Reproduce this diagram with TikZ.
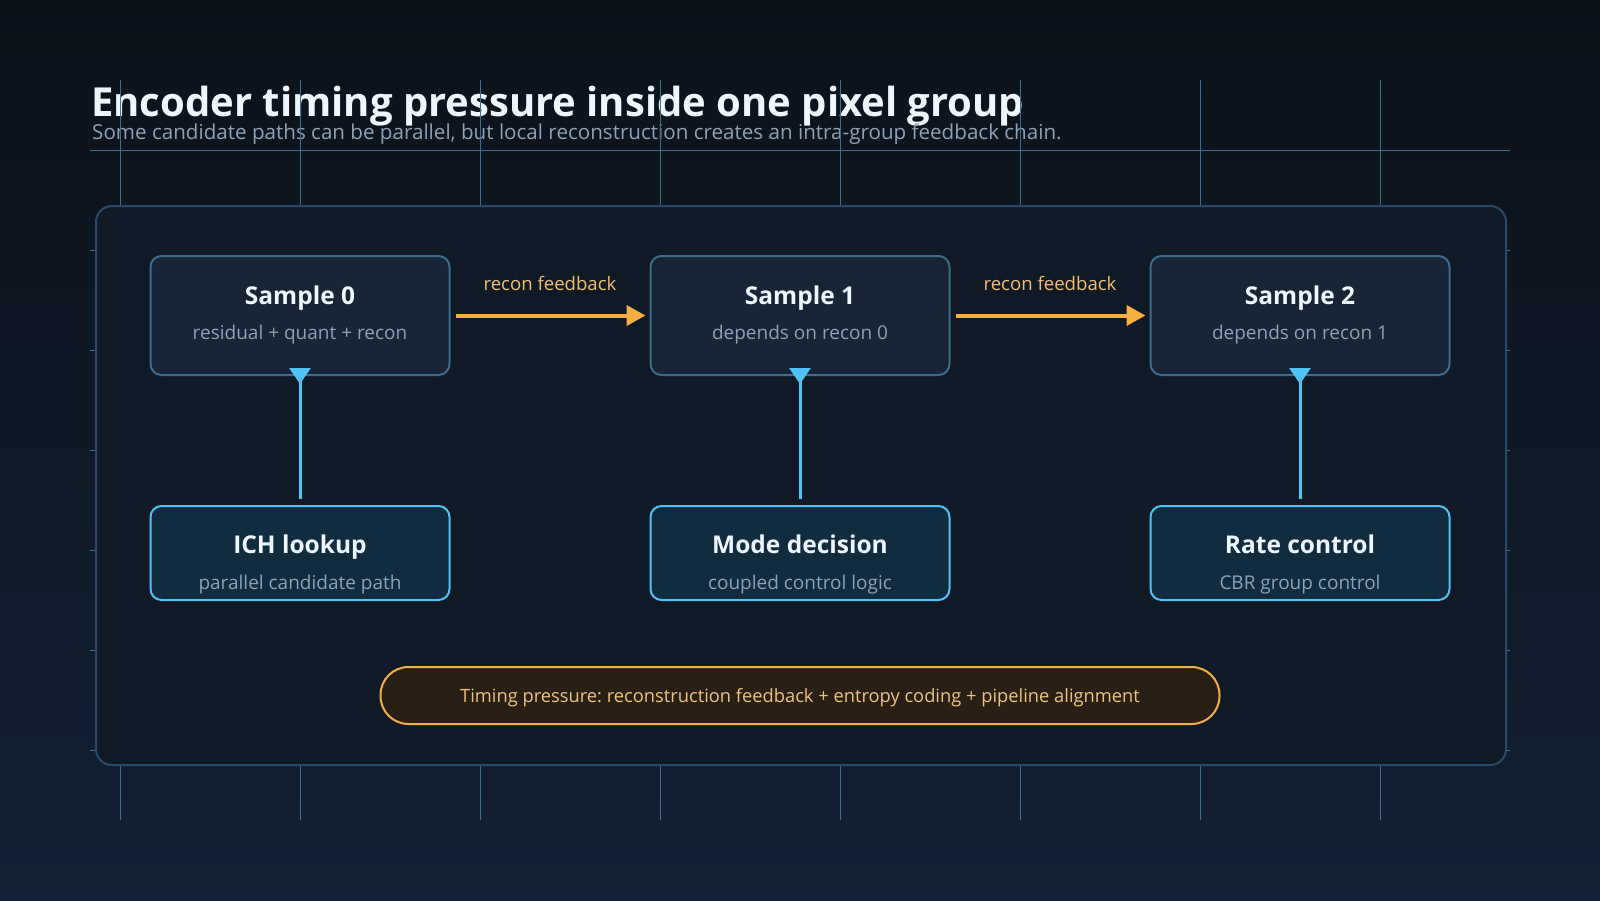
\documentclass[tikz,border=0pt]{standalone}
\usepackage{fontspec}
\setmainfont{Open Sans}
\usetikzlibrary{arrows.meta}
\frenchspacing
\definecolor{bgtop}{HTML}{0C121A}
\definecolor{bgbot}{HTML}{122033}
\definecolor{gridc}{HTML}{3A6E92}
\definecolor{titlec}{HTML}{EEF6FF}
\definecolor{subc}{HTML}{8DA2B6}
\definecolor{panelfill}{HTML}{101A27}
\definecolor{panelline}{HTML}{28496A}
\definecolor{topfill}{HTML}{172536}
\definecolor{topline}{HTML}{3B6B8F}
\definecolor{botfill}{HTML}{112B3F}
\definecolor{botline}{HTML}{4FC3F7}
\definecolor{orangec}{HTML}{F5AE42}
\definecolor{orangetxt}{HTML}{F3BD6E}
\definecolor{pillfill}{HTML}{291F15}
\definecolor{pilltxt}{HTML}{EFC27D}
\tikzset{
  gridline/.style={draw=gridc, line width=1pt},
  panelbox/.style={draw=panelline, fill=panelfill, line width=2pt, rounded corners=16pt},
  topbox/.style={draw=topline, fill=topfill, line width=2pt, rounded corners=11pt, minimum width=299pt, minimum height=119pt, inner sep=0pt},
  botbox/.style={draw=botline, fill=botfill, line width=2pt, rounded corners=11pt, minimum width=299pt, minimum height=94pt, inner sep=0pt},
  boxtitle/.style={anchor=base, text=titlec, font=\fontsize{24.5}{28}\selectfont\bfseries, inner sep=0pt},
  boxsub/.style={anchor=base, text=subc, font=\fontsize{19}{22}\selectfont, inner sep=0pt},
  feedback/.style={draw=orangec, line width=4pt, -{Triangle[length=19pt,width=20pt]}, shorten <=5pt, shorten >=4pt},
  fblabel/.style={anchor=base, text=orangetxt, font=\fontsize{18.6}{22}\selectfont, inner sep=0pt, yshift=25pt},
  uplink/.style={draw=botline, fill=botline, line width=3pt, {Triangle[reversed,length=16pt,width=21pt]}-, shorten >=6pt},
  pill/.style={draw=orangec, fill=pillfill, line width=2pt, rounded corners=28pt, minimum width=839pt, minimum height=57pt, inner sep=0pt},
}
\begin{document}
\begin{tikzpicture}[x=1pt,y=-1pt]
\fill[top color=bgtop, bottom color=bgbot] (0,0) rectangle (1600,900);
\useasboundingbox (0,0) rectangle (1600,900);

% title
\node[anchor=base west, inner sep=0pt, text=titlec, font=\fontsize{40}{44}\selectfont\bfseries] (title) at (91,116) {Encoder timing pressure inside one pixel group};
\node[anchor=base west, inner sep=0pt, text=subc, font=\fontsize{20.6}{24}\selectfont] (subtitle) at (92,139) {Some candidate paths can be parallel, but local reconstruction creates an intra-group feedback chain.};

% grid
\foreach \x in {120,300,...,1380} \draw[gridline] (\x,80) -- (\x,820);
\foreach \y in {250,350,...,750} \draw[gridline] (90,\y) -- (1510,\y);
\draw[gridline] (90,150) -- (1510,150);

% panel
\draw[panelbox] (96,206) rectangle (1506,765);

% top row
\node[topbox] (s0) at (300,315.5) {};
\node[topbox] (s1) at (800,315.5) {};
\node[topbox] (s2) at (1300,315.5) {};
\node[boxtitle] (s0t) at (300,304) {Sample 0};
\node[boxsub] (s0s) at (300,339) {residual + quant + recon};
\node[boxtitle] (s1t) at (800,304) {Sample 1};
\node[boxsub] (s1s) at (800,339) {depends on recon 0};
\node[boxtitle] (s2t) at (1300,304) {Sample 2};
\node[boxsub] (s2s) at (1300,339) {depends on recon 1};

% bottom row
\node[botbox] (b0) at (300,553) {};
\node[botbox] (b1) at (800,553) {};
\node[botbox] (b2) at (1300,553) {};
\node[boxtitle] (b0t) at (300,553) {ICH lookup};
\node[boxsub] (b0s) at (300,589) {parallel candidate path};
\node[boxtitle] (b1t) at (800,553) {Mode decision};
\node[boxsub] (b1s) at (800,589) {coupled control logic};
\node[boxtitle] (b2t) at (1300,553) {Rate control};
\node[boxsub] (b2s) at (1300,589) {CBR group control};

% feedback arrows
\draw[feedback] (s0.east) -- node[fblabel] (f0) {recon feedback} (s1.west);
\draw[feedback] (s1.east) -- node[fblabel] (f1) {recon feedback} (s2.west);

% vertical links
\draw[uplink] ([yshift=8pt]s0.south) -- (b0.north);
\draw[uplink] ([yshift=8pt]s1.south) -- (b1.north);
\draw[uplink] ([yshift=8pt]s2.south) -- (b2.north);

% timing pill
\node[pill] (pill) at (800,695.5) {};
\node[anchor=base, inner sep=0pt, text=pilltxt, font=\fontsize{18.3}{22}\selectfont] (pillt) at (800,702) {Timing pressure: reconstruction feedback + entropy coding + pipeline alignment};
\end{tikzpicture}
\end{document}
